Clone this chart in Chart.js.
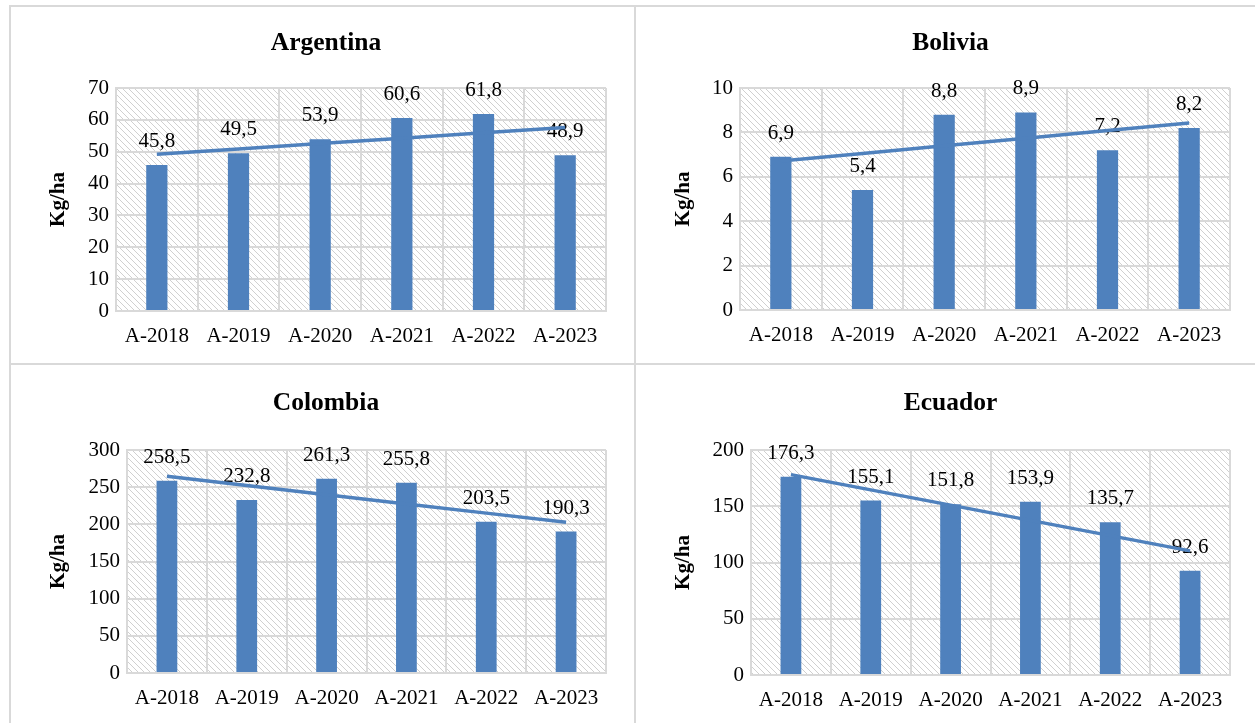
<!DOCTYPE html>
<html>
<head>
<meta charset="utf-8">
<script src="https://cdn.jsdelivr.net/npm/chart.js@4.4.1/dist/chart.umd.min.js"></script>
<style>
  html, body { margin: 0; padding: 0; background: #fff; }
  body { width: 1255px; height: 723px; position: relative; overflow: hidden; }
  canvas { position: absolute; }
  .rule { position: absolute; background: #d9d9d9; z-index: 2; }
</style>
</head>
<body>
<div class="rule" style="left:9px;top:5px;width:1250px;height:2px"></div>
<div class="rule" style="left:9px;top:5px;width:2px;height:720px"></div>
<div class="rule" style="left:634px;top:5px;width:2px;height:720px"></div>
<div class="rule" style="left:9px;top:363px;width:1250px;height:2px"></div>

<canvas id="argentina" width="625" height="358" style="left:10px;top:6px"></canvas>
<canvas id="bolivia" width="620" height="358" style="left:635px;top:6px"></canvas>
<canvas id="colombia" width="625" height="359" style="left:10px;top:364px"></canvas>
<canvas id="ecuador" width="620" height="359" style="left:635px;top:364px"></canvas>

<script>
// campaigns on the x axis
const campaigns = ['A-2018', 'A-2019', 'A-2020', 'A-2021', 'A-2022', 'A-2023'];

// yield per country, kg/ha
const argentina = [45.8, 49.5, 53.9, 60.6, 61.8, 48.9];
const bolivia = [6.9, 5.4, 8.8, 8.9, 7.2, 8.2];
const colombia = [258.5, 232.8, 261.3, 255.8, 203.5, 190.3];
const ecuador = [176.3, 155.1, 151.8, 153.9, 135.7, 92.6];

// y axis ranges: [max, step]
const argentinaTicks = [70, 10];
const boliviaTicks = [10, 2];
const colombiaTicks = [300, 50];
const ecuadorTicks = [200, 50];

const BLUE = '#4f81bd';
const GRID = '#d9d9d9';
const SERIF = '"Liberation Serif", "Times New Roman", serif';
const TITLE_SIZE = 25.5;
const TEXT_SIZE = 21;

// least squares line over the category index
function trend(values) {
  const n = values.length;
  const mx = (n - 1) / 2;
  const my = values.reduce((a, b) => a + b, 0) / n;
  let sxy = 0, sxx = 0;
  values.forEach((v, i) => { sxy += (i - mx) * (v - my); sxx += (i - mx) * (i - mx); });
  const k = sxy / sxx;
  return values.map((v, i) => my + k * (i - mx));
}

function fmt(v) {
  return v.toFixed(1).replace('.', ',');
}

// diagonal hatch for the plot background
function hatch() {
  const c = document.createElement('canvas');
  c.width = 6; c.height = 6;
  const g = c.getContext('2d');
  g.fillStyle = '#fff';
  g.fillRect(0, 0, 6, 6);
  g.strokeStyle = '#d0d0d0';
  g.lineWidth = 1;
  g.beginPath();
  g.moveTo(-1, -1); g.lineTo(7, 7);
  g.moveTo(-1, 5); g.lineTo(1, 7);
  g.moveTo(5, -1); g.lineTo(7, 1);
  g.stroke();
  return g.createPattern(c, 'repeat');
}

const plotBackground = {
  id: 'plotBackground',
  beforeDraw(chart) {
    const { ctx, chartArea: a } = chart;
    ctx.save();
    ctx.fillStyle = hatch();
    ctx.fillRect(a.left, a.top, a.right - a.left, a.bottom - a.top);
    ctx.restore();
  }
};

// value labels above the bars, drawn before the trend line
const barLabels = {
  id: 'barLabels',
  afterDatasetDraw(chart, args) {
    if (args.index !== 0) return;
    const ctx = chart.ctx;
    const values = chart.data.datasets[0].data;
    ctx.save();
    ctx.font = TEXT_SIZE + 'px ' + SERIF;
    ctx.fillStyle = '#000';
    ctx.textAlign = 'center';
    ctx.textBaseline = 'alphabetic';
    args.meta.data.forEach((bar, i) => {
      ctx.fillText(fmt(values[i]), bar.x, bar.y - 18);
    });
    ctx.restore();
  }
};

// box: [title centre, plot left, plot top, plot right, plot bottom] in canvas pixels
function draw(id, title, values, ticks, box) {
  const canvas = document.getElementById(id);
  const W = canvas.width, H = canvas.height;
  const [titleMid, left, top, right, bottom] = box;
  const titleLine = TITLE_SIZE * 1.2;
  const titleTop = titleMid - titleLine / 2;
  new Chart(canvas, {
    type: 'bar',
    data: {
      labels: campaigns,
      datasets: [{
        data: values,
        backgroundColor: BLUE,
        barPercentage: 0.26,
        categoryPercentage: 1,
        order: 1
      }, {
        type: 'line',
        data: trend(values),
        borderColor: BLUE,
        borderWidth: 3.5,
        pointRadius: 0,
        fill: false,
        order: 0
      }]
    },
    options: {
      responsive: false,
      animation: false,
      devicePixelRatio: 1,
      layout: { padding: { left: 36, right: W - right, top: 0, bottom: 0 } },
      plugins: {
        legend: { display: false },
        tooltip: { enabled: false },
        title: {
          display: true,
          text: title,
          color: '#000',
          font: { family: SERIF, size: TITLE_SIZE, weight: 'bold', lineHeight: 1.2 },
          padding: { top: titleTop, bottom: top - titleTop - titleLine }
        }
      },
      scales: {
        x: {
          grid: { color: GRID, lineWidth: 2, drawTicks: false },
          border: { color: GRID, width: 2 },
          ticks: { color: '#000', padding: 13, maxRotation: 0, font: { family: SERIF, size: TEXT_SIZE } },
          afterFit(s) { s.height = H - bottom; s.paddingLeft = 0; s.paddingRight = 0; }
        },
        y: {
          min: 0,
          max: ticks[0],
          grid: { color: GRID, lineWidth: 2, drawTicks: false },
          border: { color: GRID, width: 2 },
          ticks: { stepSize: ticks[1], color: '#000', padding: 7, font: { family: SERIF, size: TEXT_SIZE } },
          title: {
            display: true,
            text: 'Kg/ha',
            color: '#000',
            padding: 0,
            font: { family: SERIF, size: TEXT_SIZE, weight: 'bold', lineHeight: 1.2 }
          },
          afterFit(s) { s.width = left - 36; s.paddingTop = 0; s.paddingBottom = 0; }
        }
      }
    },
    plugins: [plotBackground, barLabels]
  });
}

draw('argentina', 'Argentina', argentina, argentinaTicks, [37, 106, 82, 596, 305]);
draw('bolivia', 'Bolivia', bolivia, boliviaTicks, [37, 105, 82, 595, 304]);
draw('colombia', 'Colombia', colombia, colombiaTicks, [39, 117, 86, 596, 309]);
draw('ecuador', 'Ecuador', ecuador, ecuadorTicks, [39, 116, 86, 595, 311]);
</script>
</body>
</html>
